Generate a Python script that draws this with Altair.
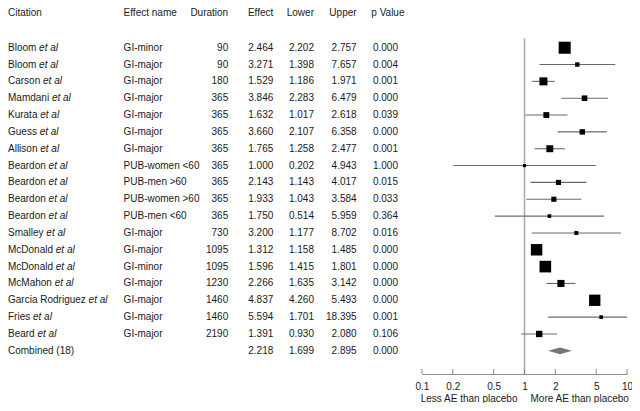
import altair as alt
import numpy as np
import pandas as pd

# ---------------- data ----------------
citations = ["Bloom", "Bloom", "Carson", "Mamdani", "Kurata", "Guess", "Allison",
             "Beardon", "Beardon", "Beardon", "Beardon", "Smalley", "McDonald",
             "McDonald", "McMahon", "Garcia Rodriguez", "Fries", "Beard"]
effect_names = ["GI-minor", "GI-major", "GI-major", "GI-major", "GI-major", "GI-major",
                "GI-major", "PUB-women <60", "PUB-men >60", "PUB-women >60", "PUB-men <60",
                "GI-major", "GI-major", "GI-minor", "GI-major", "GI-major", "GI-major",
                "GI-major"]
durations = [90, 90, 180, 365, 365, 365, 365, 365, 365, 365, 365, 730, 1095, 1095,
             1230, 1460, 1460, 2190]
effects = [2.464, 3.271, 1.529, 3.846, 1.632, 3.660, 1.765, 1.000, 2.143, 1.933, 1.750,
           3.200, 1.312, 1.596, 2.266, 4.837, 5.594, 1.391]
lowers = [2.202, 1.398, 1.186, 2.283, 1.017, 2.107, 1.258, 0.202, 1.143, 1.043, 0.514,
          1.177, 1.158, 1.415, 1.635, 4.260, 1.701, 0.930]
uppers = [2.757, 7.657, 1.971, 6.479, 2.618, 6.358, 2.477, 4.943, 4.017, 3.584, 5.959,
          8.702, 1.485, 1.801, 3.142, 5.493, 18.395, 2.080]
pvalues = [0.000, 0.004, 0.001, 0.000, 0.039, 0.000, 0.001, 1.000, 0.015, 0.033, 0.364,
           0.016, 0.000, 0.000, 0.000, 0.000, 0.001, 0.106]

combined_label = "Combined (18)"
combined_effect = 2.218
combined_lower = 1.699
combined_upper = 2.895
combined_p = 0.000

headers = ["Citation", "Effect name", "Duration", "Effect", "Lower", "Upper", "p Value"]
tick_values = [0.1, 0.2, 0.5, 1, 2, 5, 10]
footer_left = "Less AE than placebo"
footer_right = "More AE than placebo"

# ---------------- styling ----------------
FONT = "Liberation Sans"
FS = 10
TXT = "#1a1a1a"
# Arial / Liberation Sans advance widths (per 1000 em) to place the italic "et al"
ARIAL = {'a': 556, 'b': 556, 'c': 500, 'd': 556, 'e': 556, 'f': 278, 'g': 556, 'h': 556,
         'i': 222, 'j': 222, 'k': 500, 'l': 222, 'm': 833, 'n': 556, 'o': 556, 'p': 556,
         'q': 556, 'r': 333, 's': 500, 't': 278, 'u': 556, 'v': 500, 'w': 722, 'x': 500,
         'y': 500, 'z': 500, 'A': 667, 'B': 667, 'C': 722, 'D': 722, 'E': 667, 'F': 611,
         'G': 778, 'H': 722, 'I': 278, 'J': 500, 'K': 667, 'L': 556, 'M': 833, 'N': 722,
         'O': 778, 'P': 667, 'Q': 778, 'R': 722, 'S': 667, 'T': 611, 'U': 722, 'V': 667,
         'W': 944, 'X': 667, 'Y': 667, 'Z': 611, ' ': 278}


def text_width(s):
    return sum(ARIAL.get(ch, 556) for ch in s) / 1000 * FS


# ---------------- tables ----------------
n = len(citations)
study = pd.DataFrame({
    "row": list(range(n)),
    "lower": lowers,
    "upper": uppers,
    "effect": effects,
})
z = 1.959964
study["weight"] = 1.0 / ((np.log(study["upper"]) - np.log(study["lower"])) / (2 * z))

table = pd.DataFrame({
    "row": list(range(n + 1)),
    "label": citations + [combined_label],
    "etal": ["et al"] * n + [""],
    "ename": effect_names + [""],
    "duration": [str(d) for d in durations] + [""],
    "effect": effects + [combined_effect],
    "lower": lowers + [combined_lower],
    "upper": uppers + [combined_upper],
    "p": pvalues + [combined_p],
})
table["etal_x"] = [text_width(c + " ") for c in table["label"]]
etal_table = table[table["etal"] != ""]

diamond = pd.DataFrame({
    "x": [combined_lower, combined_effect, combined_upper],
    "ylo": [n - 0.2 * k for k in (0, 1, 0)],
    "yhi": [n + 0.2 * k for k in (0, 1, 0)],
})

ticks_df = pd.DataFrame({"v": tick_values})
ref_df = pd.DataFrame({"v": [1]})

# ---------------- scales ----------------
W, H = 624, 366
xscale = alt.Scale(type="log", domain=[0.1, 10], range=[413.9, 619.1], clamp=True, nice=False)
yscale = alt.Scale(domain=[0, n], range=[39.7, 342.8], nice=False, zero=False)
xaxis = alt.Axis(values=tick_values, format="~g", ticks=False, tickSize=0, grid=False,
                 domainColor="#8a8a8a", domainWidth=1, labelFont=FONT, labelFontSize=FS,
                 labelColor=TXT, labelPadding=7, title=None, labelFlush=False)


def X(field):
    return alt.X(field, scale=xscale, axis=xaxis, title=None)


def Y(field):
    return alt.Y(field, scale=yscale, axis=None, title=None)


base_text = dict(font=FONT, fontSize=FS, color=TXT, baseline="middle")

ref_line = alt.Chart(ref_df).mark_rule(color="#ababab", strokeWidth=1.6).encode(
    x=X("v:Q"), y=alt.value(30.5), y2=alt.value(H))

tick_marks = alt.Chart(ticks_df).mark_rule(color="#8a8a8a", strokeWidth=1).encode(
    x=X("v:Q"), y=alt.value(H - 5), y2=alt.value(H))

ci = alt.Chart(study).mark_rule(color="#6a6a6a", strokeWidth=1.1).encode(
    x=X("lower:Q"), x2="upper:Q", y=Y("row:Q"))

squares = alt.Chart(study).mark_square(color="black", opacity=1).encode(
    x=X("effect:Q"), y=Y("row:Q"),
    size=alt.Size("weight:Q", scale=alt.Scale(domain=[0, 20], range=[0, 166]), legend=None))

diam = alt.Chart(diamond).mark_area(color="#777777", orient="vertical", opacity=1).encode(
    x=X("x:Q"), y=Y("ylo:Q"), y2="yhi:Q")

layers = [ref_line, tick_marks, ci, squares, diam]

# citation names
layers.append(alt.Chart(table).mark_text(align="left", **base_text).encode(
    x=alt.value(0), y=Y("row:Q"), text="label:N"))
layers.append(alt.Chart(etal_table).mark_text(align="left", fontStyle="italic", **base_text).encode(
    x=alt.X("etal_x:Q", scale=None), y=Y("row:Q"), text="etal:N"))

columns = [
    ("ename:N", 115.6, "left", None),
    ("duration:N", 220.2, "right", None),
    ("effect:Q", 265.3, "right", ".3f"),
    ("lower:Q", 306.0, "right", ".3f"),
    ("upper:Q", 348.6, "right", ".3f"),
    ("p:Q", 390.0, "right", ".3f"),
]
for field, xpos, al, fmt in columns:
    txt = alt.Text(field, format=fmt) if fmt else alt.Text(field)
    layers.append(alt.Chart(table).mark_text(align=al, **base_text).encode(
        x=alt.value(xpos), y=Y("row:Q"), text=txt))

header_pos = [(0, "left"), (115.6, "left"), (220.2, "right"), (265.3, "right"),
              (306.0, "right"), (348.6, "right"), (363.3, "left")]
for label, (xpos, al) in zip(headers, header_pos):
    layers.append(alt.Chart(pd.DataFrame({"t": [label]})).mark_text(align=al, **base_text).encode(
        x=alt.value(xpos), y=alt.value(4.5), text="t:N"))

foot = pd.DataFrame({"v": [1, 1], "t": [footer_left, footer_right]})
layers.append(alt.Chart(foot.iloc[[0]]).mark_text(align="right", dx=-7, **base_text).encode(
    x=X("v:Q"), y=alt.value(391), text="t:N"))
layers.append(alt.Chart(foot.iloc[[1]]).mark_text(align="left", dx=6, **base_text).encode(
    x=X("v:Q"), y=alt.value(391), text="t:N"))

chart = alt.layer(*layers).properties(
    width=W, height=H,
    background="white",
    padding={"left": 0, "right": 0, "top": 0, "bottom": 29},
    autosize=alt.AutoSizeParams(type="none"),
).configure_view(strokeWidth=0, stroke="transparent")

chart.save("out.html", embed_options={"renderer": "svg", "actions": False})
